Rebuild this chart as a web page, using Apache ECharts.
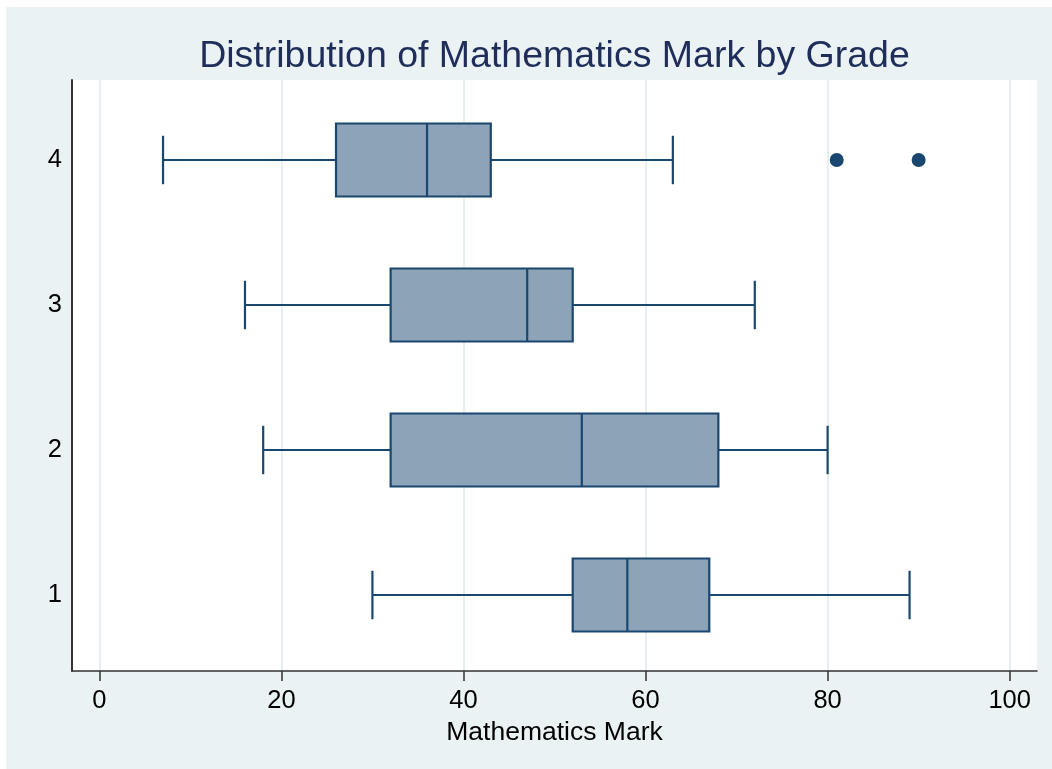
<!DOCTYPE html>
<html>
<head>
<meta charset="utf-8">
<script src="https://cdn.jsdelivr.net/npm/echarts@6/dist/echarts.min.js"></script>
<style>
  html, body { margin: 0; padding: 0; background: #ffffff; }
  #chart { position: absolute; left: 6px; top: 7px; width: 1046px; height: 762px; }
</style>
</head>
<body>
<div id="chart"></div>
<script>
// ---- data ----
const titleText = 'Distribution of Mathematics Mark by Grade';
const xAxisTitle = 'Mathematics Mark';
const grades = [1, 2, 3, 4];
const whiskerLow = [30, 18, 16, 7];
const q1 = [52, 32, 32, 26];
const median = [58, 53, 47, 36];
const q3 = [67, 68, 52, 43];
const whiskerHigh = [89, 80, 72, 63];
const outlierGrade = [4, 4];
const outlierValue = [81, 90];
const xTicks = [0, 20, 40, 60, 80, 100];

// ---- styles ----
const NAVY = '#1a476f';
const BOXFILL = '#8da3b8';
const BG = '#eaf2f3';
const FONT = 'Arial, "Liberation Sans", sans-serif';

const boxData = grades.map((g, i) => [g, whiskerLow[i], q1[i], median[i], q3[i], whiskerHigh[i]]);
const outlierData = outlierGrade.map((g, i) => [outlierValue[i], g]);

const BOX_HALF = 0.2517;  // in y-axis units
const CAP_HALF = 0.167;

function renderBox(params, api) {
  const g = api.value(0);
  const lo = api.value(1), a = api.value(2), m = api.value(3), b = api.value(4), hi = api.value(5);
  const yc = api.coord([lo, g])[1];
  const bh = api.size([0, BOX_HALF])[1];
  const ch = api.size([0, CAP_HALF])[1];
  const xLo = api.coord([lo, g])[0];
  const xA = api.coord([a, g])[0];
  const xM = api.coord([m, g])[0];
  const xB = api.coord([b, g])[0];
  const xHi = api.coord([hi, g])[0];
  const ls = { stroke: NAVY, lineWidth: 2.2 };
  return {
    type: 'group',
    children: [
      { type: 'line', shape: { x1: xLo, y1: yc, x2: xA, y2: yc }, style: ls },
      { type: 'line', shape: { x1: xB, y1: yc, x2: xHi, y2: yc }, style: ls },
      { type: 'line', shape: { x1: xLo, y1: yc - ch, x2: xLo, y2: yc + ch }, style: ls },
      { type: 'line', shape: { x1: xHi, y1: yc - ch, x2: xHi, y2: yc + ch }, style: ls },
      { type: 'rect', shape: { x: xA, y: yc - bh, width: xB - xA, height: 2 * bh },
        style: { fill: BOXFILL, stroke: NAVY, lineWidth: 2.2 } },
      { type: 'line', shape: { x1: xM, y1: yc - bh, x2: xM, y2: yc + bh }, style: ls }
    ]
  };
}

const chart = echarts.init(document.getElementById('chart'), null, { renderer: 'canvas' });
chart.setOption({
  backgroundColor: BG,
  animation: false,
  graphic: [{
    type: 'text',
    x: 548.5, y: 50,
    style: {
      text: titleText,
      font: '37.5px ' + FONT,
      fill: '#1e2d5a',
      textAlign: 'center',
      textVerticalAlign: 'middle'
    }
  }],
  grid: {
    left: 66, top: 73, width: 965, height: 591,
    show: true, backgroundColor: '#ffffff', borderWidth: 0,
    containLabel: false
  },
  xAxis: {
    type: 'value',
    min: -3, max: 103,
    name: xAxisTitle,
    nameLocation: 'middle',
    nameGap: 47,
    nameTextStyle: { fontFamily: FONT, fontSize: 26.5, color: '#000' },
    axisLine: { show: true, onZero: false, lineStyle: { color: '#333', width: 1.5 } },
    axisTick: { show: true, length: 10, customValues: xTicks, lineStyle: { color: '#333', width: 1.5 } },
    axisLabel: { customValues: xTicks, margin: 17, fontFamily: FONT, fontSize: 25.5, color: '#000' },
    splitLine: { show: true, lineStyle: { color: '#e6eff1', width: 2 } }
  },
  yAxis: {
    type: 'value',
    min: 0.4759, max: 4.5517,
    axisLine: { show: true, onZero: false, lineStyle: { color: '#333', width: 2 } },
    axisTick: { show: false },
    axisLabel: { customValues: grades, margin: 10, fontFamily: FONT, fontSize: 25.5, color: '#000' },
    splitLine: { show: false }
  },
  series: [
    {
      type: 'custom',
      renderItem: renderBox,
      data: boxData,
      encode: { x: [1, 2, 3, 4, 5], y: 0 },
      clip: false
    },
    {
      type: 'scatter',
      data: outlierData,
      symbol: 'circle',
      symbolSize: 14,
      itemStyle: { color: NAVY, opacity: 1 }
    }
  ]
});
</script>
</body>
</html>
